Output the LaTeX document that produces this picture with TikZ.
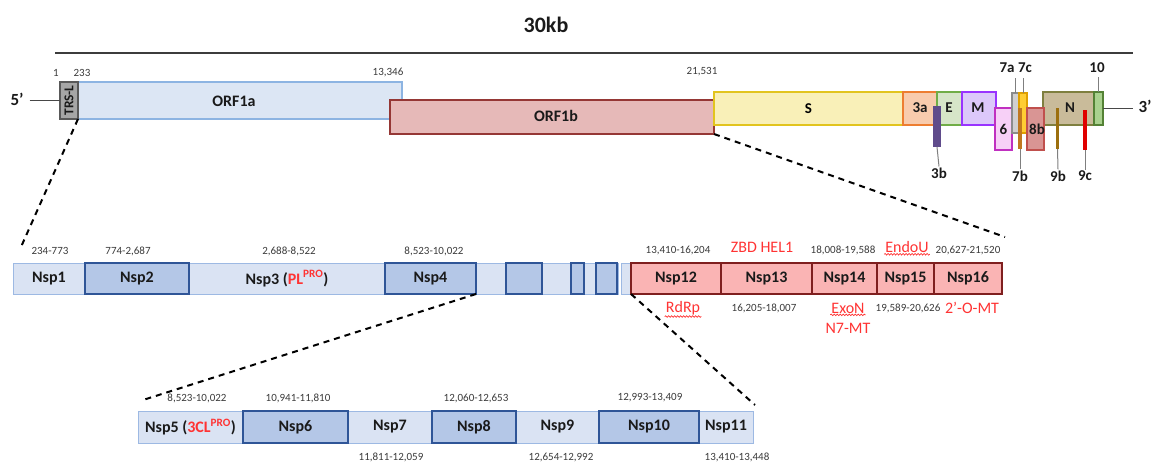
\documentclass[tikz,border=0pt]{standalone}
\usepackage{fontspec}
\setmainfont{Carlito}
\usetikzlibrary{decorations.pathmorphing}

% palette
\definecolor{lbfill}{HTML}{DAE3F3}
\definecolor{lbline}{HTML}{9DB9E3}
\definecolor{dbfill}{HTML}{B4C7E7}
\definecolor{dbline}{HTML}{2F5597}
\definecolor{rfill}{HTML}{FAB4B4}
\definecolor{rline}{HTML}{7F1F1F}
\definecolor{obfill}{HTML}{E6B9B8}
\definecolor{obline}{HTML}{953735}
\definecolor{oafill}{HTML}{DCE6F4}
\definecolor{oaline}{HTML}{8DB4E2}
\definecolor{trsfill}{HTML}{A6A6A6}
\definecolor{trsline}{HTML}{595959}
\definecolor{sfill}{HTML}{F9F0B8}
\definecolor{sline}{HTML}{E2C41E}
\definecolor{afill}{HTML}{F8CBAD}
\definecolor{aline}{HTML}{ED7D31}
\definecolor{efill}{HTML}{D6E5C8}
\definecolor{eline}{HTML}{70AD47}
\definecolor{mfill}{HTML}{DCC8FA}
\definecolor{mline}{HTML}{9933FF}
\definecolor{sixfill}{HTML}{F7D0F7}
\definecolor{sixline}{HTML}{C030C0}
\definecolor{sevafill}{HTML}{D0D0D0}
\definecolor{sevaline}{HTML}{8C8C8C}
\definecolor{sevcfill}{HTML}{FFC000}
\definecolor{sevcline}{HTML}{E0A000}
\definecolor{sevb}{HTML}{C07820}
\definecolor{ebfill}{HTML}{D99594}
\definecolor{ebline}{HTML}{C0504D}
\definecolor{nfill}{HTML}{C9BB9A}
\definecolor{nline}{HTML}{7F7F3F}
\definecolor{tenfill}{HTML}{A9D18E}
\definecolor{tenline}{HTML}{548235}
\definecolor{tbbar}{HTML}{5F4B8B}
\definecolor{nbbar}{HTML}{9C6F0E}
\definecolor{ncbar}{HTML}{E00000}
\definecolor{numgray}{HTML}{3A3A3A}
\definecolor{ink}{HTML}{1A1A1A}
\definecolor{redtxt}{HTML}{FF3333}
\definecolor{tickgray}{HTML}{7F7F7F}

% box from corner (x1,y1) to corner (x2,y2): name, style, x1, y1, x2, y2, text
\newcommand\gbox[7]{%
  \pgfmathsetmacro\gw{#5-#3}\pgfmathsetmacro\gh{#6-#4}%
  \node[#2, minimum width=\gw pt, minimum height=\gh pt, anchor=north west,
        inner sep=0pt, outer sep=0pt] (#1) at (#3,#4) {#7};}

\begin{document}
\begin{tikzpicture}[x=1pt, y=-1pt,
  lbox/.style={draw=lbline, fill=lbfill, line width=1pt},
  dbox/.style={draw=dbline, fill=dbfill, line width=1.4pt},
  rbox/.style={draw=rline, fill=rfill, line width=1.4pt},
  nsplab/.style={font=\bfseries\fontsize{16}{18}\selectfont, text=ink},
  num/.style={font=\fontsize{11}{12}\selectfont, text=numgray, inner sep=1pt},
  fn/.style={font=\fontsize{16}{18}\selectfont, text=redtxt, inner sep=1pt},
  gene/.style={font=\bfseries\fontsize{15}{17}\selectfont, text=ink, inner sep=1pt},
  zoomline/.style={line width=2pt, dash pattern=on 6pt off 5pt, black},
  wavy/.style={redtxt, line width=0.7pt, decorate,
               decoration={snake, amplitude=0.8pt, segment length=3pt}},
  tickline/.style={tickgray, line width=1pt}]
\useasboundingbox (0,0) rectangle (1151,461);

% ---------- genome scale ----------
\node[font=\bfseries\fontsize{22}{24}\selectfont, text=ink] (title) at (546,25) {30kb};
\coordinate (scaleL) at (55,53);
\coordinate (scaleR) at (1133,53);
\draw[line width=2pt, color=ink!85] (scaleL) -- (scaleR);

% ---------- genome ----------
\gbox{orf1a}{draw=oaline, fill=oafill, line width=1.4pt}{77}{82}{402}{119}{}
\node[nsplab] at (234,101) {ORF1a};
\gbox{trs}{draw=trsline, fill=trsfill, line width=1.2pt}{60}{82}{78}{119}{}
\node[rotate=90, font=\bfseries\fontsize{13.5}{15}\selectfont, text=ink] at (trs.center) {TRS-L};
\gbox{orf1b}{draw=obline, fill=obfill, line width=1.6pt}{390}{100}{714}{134}{}
\node[nsplab] at (556,116) {ORF1b};
\gbox{gS}{draw=sline, fill=sfill, line width=1.6pt}{714}{92}{903}{125}{\bfseries\fontsize{15}{17}\selectfont S}
\gbox{g3a}{draw=aline, fill=afill, line width=1.6pt}{903}{92}{937}{125}{}
\node[gene] at (920,108) {3a};
\gbox{gE}{draw=eline, fill=efill, line width=1.6pt}{937}{92}{962}{125}{}
\node[gene] at (949,108) {E};
\gbox{gM}{draw=mline, fill=mfill, line width=1.6pt}{962}{92}{996}{125}{}
\node[gene] at (978,108) {M};
\gbox{g6}{draw=sixline, fill=sixfill, line width=1.6pt}{995}{108}{1012}{150}{}
\node[gene] at (1003.5,129) {6};
\gbox{g7a}{draw=sevaline, fill=sevafill, line width=1.2pt}{1012}{93}{1020}{133}{}
\gbox{g7c}{draw=sevcline, fill=sevcfill!80, line width=1.2pt}{1019}{93}{1027}{133}{}
\gbox{gN}{draw=nline, fill=nfill, line width=1.6pt}{1043}{92}{1094}{125}{}
\node[gene] at (1070,108) {N};
\gbox{g8b}{draw=ebline, fill=ebfill, line width=1.6pt}{1027}{108}{1044}{150}{}
\node[gene] at (1037,129) {8b};
\gbox{g10}{draw=tenline, fill=tenfill, line width=1.6pt}{1094}{92}{1103}{125}{}

% small overlapping ORFs drawn as bars
\gbox{g3b}{fill=tbbar}{933}{106}{941}{147}{}
\gbox{g7b}{fill=sevb}{1018}{108}{1022}{149}{}
\gbox{g9b}{fill=nbbar}{1056}{108}{1059}{149}{}
\gbox{g9c}{fill=ncbar}{1083}{110}{1087}{150}{}

% gene labels with ticks
\node[gene] (l3b) at (939,173) {3b};
\node[gene] (l7b) at (1020,176) {7b};
\node[gene] (l9b) at (1058,176) {9b};
\node[gene] (l9c) at (1085,176) {9c};
\node[gene] (l7a) at (1007,68) {7a};
\node[gene] (l7c) at (1025,68) {7c};
\node[gene] (l10) at (1097,68) {10};
\draw[tickline] (g3b.south) -- (l3b.north);
\draw[tickline] (g7b.south) -- (l7b.north);
\draw[tickline] (g9b.south) -- (l9b.north);
\draw[tickline] (g9c.south) -- (l9c.north);
\draw[tickline] ([xshift=-1pt]g7a.north) -- ++(0,-15);
\draw[tickline] (g7c.north) -- ++(0,-15);
\draw[tickline] (g10.north) -- ++(0,-15);

% genome ends
\node[font=\bfseries\fontsize{17}{19}\selectfont, text=ink, inner sep=0pt] (p5) at (17,99) {5’};
\node[font=\bfseries\fontsize{17}{19}\selectfont, text=ink, inner sep=0pt] (p3) at (1145,106) {3’};
\draw[line width=1pt, ink!80] ([xshift=6pt]p5.east |- trs.west) -- (trs.west);
\draw[line width=1pt, ink!80] (g10.east) -- ([xshift=-5pt]p3.west |- g10.east);

% coordinates on genome
\node[num] at (56,73) {1};
\node[num] at (82,73) {233};
\node[num] at (388,72) {13,346};
\node[num] at (702,72) {21,531};

% ---------- pp1ab cleavage products ----------
\gbox{nsp1}{lbox}{13}{263}{85}{294}{}
\gbox{nsp3}{lbox}{189}{263}{385}{294}{}
\gbox{nspmid}{lbox}{476}{263}{618}{294}{}
\gbox{nspgap}{lbox}{621}{263}{631}{294}{}
\gbox{nsp2}{dbox}{85}{263}{189}{294}{}
\gbox{nsp4}{dbox}{385}{263}{476}{294}{}
\gbox{m1}{dbox}{506}{263}{542}{294}{}
\gbox{m2}{dbox}{571}{263}{584}{294}{}
\gbox{m3}{dbox}{596}{263}{617}{294}{}
\node[nsplab] at (nsp1.center) {Nsp1};
\node[nsplab] at (nsp2.center) {Nsp2};
\node[nsplab] at (nsp3.center) {Nsp3 (\textcolor{redtxt}{PL\textsuperscript{PRO}})};
\node[nsplab] at (nsp4.center) {Nsp4};
\gbox{nsp12}{rbox}{631}{263}{721}{294}{}
\gbox{nsp13}{rbox}{721}{263}{812}{294}{}
\gbox{nsp14}{rbox}{812}{263}{877}{294}{}
\gbox{nsp15}{rbox}{877}{263}{934}{294}{}
\gbox{nsp16}{rbox}{934}{263}{1002}{294}{}
\node[nsplab] at (nsp12.center) {Nsp12};
\node[nsplab] at (nsp13.center) {Nsp13};
\node[nsplab] at (nsp14.center) {Nsp14};
\node[nsplab] at (nsp15.center) {Nsp15};
\node[nsplab] at (nsp16.center) {Nsp16};

\node[num] at (50,251) {234-773};
\node[num] at (128,251) {774-2,687};
\node[num] at (289,251) {2,688-8,522};
\node[num] at (434,251) {8,523-10,022};
\node[num] at (678,250) {13,410-16,204};
\node[num] at (843,250) {18,008-19,588};
\node[num] at (968,250) {20,627-21,520};
\node[num] at (764,308) {16,205-18,007};
\node[num] at (908,308) {19,589-20,626};

\node[fn] at (762,247) {ZBD HEL1};
\node[fn] (endou) at (907,247) {EndoU};
\node[fn] (rdrp) at (683,308) {RdRp};
\node[fn] (exon) at (848,308) {ExoN};
\node[fn] at (848,328) {N7-MT};
\node[fn] at (972,308) {2’-O-MT};
\draw[wavy] ([yshift=-0.5pt]endou.south west) -- ([yshift=-0.5pt]endou.south east);
\draw[wavy] ([yshift=-0.5pt]rdrp.south west) -- ([yshift=-0.5pt]rdrp.south east);
\draw[wavy] ([yshift=-0.5pt]exon.south west) -- ([yshift=-0.5pt]exon.south east);

% ---------- nsp5 to nsp11 ----------
\gbox{nsp5}{lbox}{138}{411}{243}{443}{}
\gbox{nsp7}{lbox}{348}{411}{432}{443}{}
\gbox{nsp9}{lbox}{516}{411}{599}{443}{}
\gbox{nsp11}{lbox}{699}{411}{753}{443}{}
\gbox{nsp6}{dbox}{243}{411}{348}{443}{}
\gbox{nsp8}{dbox}{432}{411}{516}{443}{}
\gbox{nsp10}{dbox}{599}{411}{699}{443}{}
\node[nsplab] at (nsp5.center) {Nsp5 (\textcolor{redtxt}{3CL\textsuperscript{PRO}})};
\node[nsplab] at (nsp6.center) {Nsp6};
\node[nsplab] at (nsp7.center) {Nsp7};
\node[nsplab] at (nsp8.center) {Nsp8};
\node[nsplab] at (nsp9.center) {Nsp9};
\node[nsplab] at (nsp10.center) {Nsp10};
\node[nsplab] at (nsp11.center) {Nsp11};

\node[num] at (197,398) {8,523-10,022};
\node[num] at (298,398) {10,941-11,810};
\node[num] at (476,398) {12,060-12,653};
\node[num] at (650,398) {12,993-13,409};
\node[num] at (391,457) {11,811-12,059};
\node[num] at (561,457) {12,654-12,992};
\node[num] at (737,457) {13,410-13,448};

% ---------- zoom guides ----------
\coordinate (z1a) at (21,247);
\coordinate (z1b) at (1005,237);
\coordinate (z2a) at (143,400);
\coordinate (z2b) at (755,405);
\draw[zoomline] (trs.south east) -- (z1a);
\draw[zoomline] (orf1b.south east) -- (z1b);
\draw[zoomline] (nsp4.south east) -- (z2a);
\draw[zoomline] (nsp12.south west) -- (z2b);
\end{tikzpicture}
\end{document}
